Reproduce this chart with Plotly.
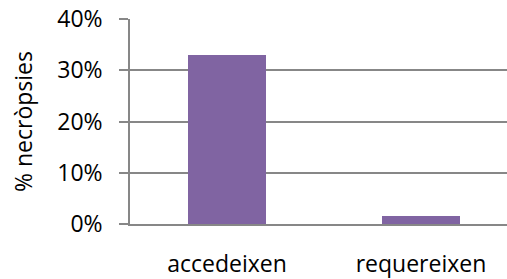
import plotly.graph_objects as go

categories = ["accedeixen", "requereixen"]
values = [0.329, 0.016]
y_ticks = [0, 0.1, 0.2, 0.3, 0.4]
y_tick_labels = ["0%", "10%", "20%", "30%", "40%"]
y_title = "% necròpsies"

FONT = "Open Sans"
GRID = "#878787"
FS = 23

fig = go.Figure(
    go.Bar(
        x=[0, 1],
        y=values,
        width=0.4,
        marker=dict(color="#8064A2", line=dict(width=0)),
    )
)

fig.update_layout(
    width=507,
    height=279,
    margin=dict(l=130, r=0, t=19, b=55, autoexpand=False),
    paper_bgcolor="white",
    plot_bgcolor="white",
    showlegend=False,
    font=dict(family=FONT, size=FS, color="black"),
    bargap=0,
)

fig.update_xaxes(
    range=[-0.5, -0.5 + 377 / 194],
    tickvals=[0, 1],
    ticktext=categories,
    showgrid=False,
    showline=True,
    linecolor=GRID,
    linewidth=1.5,
    ticks="",
    ticklabelstandoff=19,
    tickfont=dict(family=FONT, size=FS),
    zeroline=False,
    automargin=False,
)

fig.update_yaxes(
    range=[0, 0.4],
    tickvals=y_ticks,
    ticktext=y_tick_labels,
    showgrid=True,
    gridcolor=GRID,
    gridwidth=1.5,
    showline=True,
    linecolor=GRID,
    linewidth=1.5,
    ticks="outside",
    ticklen=9,
    tickcolor=GRID,
    tickwidth=1.5,
    ticklabelstandoff=12,
    tickfont=dict(family=FONT, size=FS),
    zeroline=False,
    automargin=False,
    title=dict(text=y_title, font=dict(family=FONT, size=FS), standoff=18),
)

fig.write_html(
    "out.html",
    config={"displayModeBar": False},
    post_script="document.body.style.margin='0';document.body.style.overflow='hidden';",
)
